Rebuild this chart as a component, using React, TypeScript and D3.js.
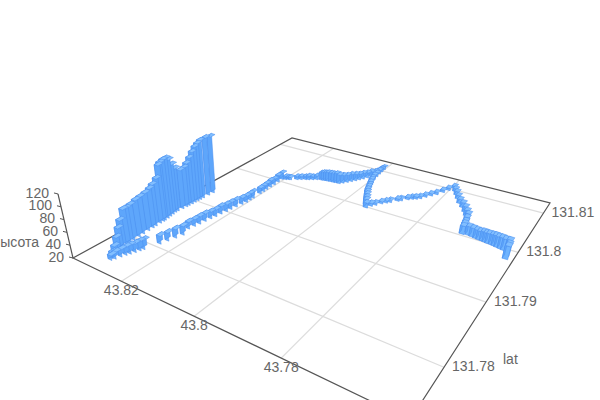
import React from "react";
import * as d3 from "d3";

const xTicks = [43.82, 43.8, 43.78];
const yTicks = [131.81, 131.8, 131.79, 131.78];
const zTicks = [20, 40, 60, 80, 100, 120];

const lon = [
  43.8311,43.8312,43.8313,43.8313,43.8314,43.8314,43.8314,43.8315,43.8315,43.8316,43.8318,43.8318,43.8316,43.8314,43.8312,43.8311,43.831,43.831,43.8309,43.8308,43.8307,43.8306,43.8304,43.8303,43.8302,43.8302,43.8302,43.8301,43.8295,43.8289,43.8285,43.8282,
  43.8278,43.8274,43.827,43.8266,43.8262,43.8258,43.8255,
  43.8242,43.8237,43.8231,43.8226,
  43.8235,43.8232,43.8229,43.8227,43.8224,43.8221,43.8219,43.8216,43.8214,43.8211,
  43.8208,43.8205,43.8205,43.8205,
  43.8205,43.8205,43.8206,43.8206,43.8206,43.8207,43.8207,
  43.8198,43.8192,43.8187,
  43.8172,43.8163,43.8153,43.8145,43.8136,43.8127,
  43.8115,43.8109,43.8103,43.8096,43.8088,43.808,43.8072,43.8064,43.8057,43.805,43.8043,43.8036,43.803,43.8024,43.8018,43.8013,
  43.8011,43.801,43.8009,43.8007,43.8006,43.8004,
  43.8003,43.8002,43.8,43.7998,43.7995,43.799,43.7985,43.798,43.7975,43.797,43.7964,43.7958,43.7951,43.7945,43.7938,
  43.7932,43.7925,43.7916,43.7908,43.7901,43.7888,43.7882,43.787,43.7862,43.7854,43.7846,43.7838,43.7829,43.782,43.7811,43.7803,43.7794,
  43.7785,43.7775,43.7764,43.7752,43.7738,43.7725,43.7715,43.7706,
  43.7702,43.7698,43.7695,43.7693,43.768,43.767,43.766,43.7652,43.7644,
  43.7637,43.763,43.7622,43.7615,43.7608,43.76,43.7592,43.7583,43.758,43.7578,
];
const lat = [
  131.7932,131.7924,131.7915,131.791,131.7906,131.7901,131.7896,131.7891,131.7887,131.7881,131.7874,131.787,131.7865,131.786,131.7855,131.785,131.7847,131.7842,131.7835,131.783,131.7823,131.7815,131.7808,131.78,131.7794,131.779,131.7784,131.778,131.7774,131.7768,131.7763,131.776,
  131.7764,131.777,131.7775,131.7779,131.7784,131.7789,131.7793,
  131.781,131.7819,131.7828,131.7837,
  131.785,131.7858,131.7865,131.7873,131.7881,131.7888,131.7896,131.7904,131.7911,131.7919,
  131.7928,131.7935,131.7942,131.7948,
  131.7962,131.7969,131.7976,131.7984,131.7992,131.8001,131.801,
  131.8012,131.8014,131.8015,
  131.802,131.8023,131.8026,131.8028,131.8031,131.8034,
  131.8036,131.8037,131.8038,131.8038,131.8039,131.8039,131.804,131.804,131.8044,131.8049,131.8054,131.8059,131.8064,131.8069,131.8075,131.8081,
  131.8085,131.809,131.8095,131.81,131.8105,131.811,
  131.8102,131.8094,131.8085,131.8076,131.8068,131.8061,131.8054,131.8047,131.804,131.8033,131.8027,131.8021,131.8014,131.8008,131.8002,
  131.8009,131.8014,131.8021,131.8026,131.803,131.8038,131.8041,131.8048,131.8052,131.8055,131.8059,131.8066,131.8073,131.808,131.809,131.8099,131.8108,
  131.81,131.8092,131.8083,131.8073,131.8065,131.8056,131.8048,131.804,
  131.803,131.802,131.8013,131.8007,131.8008,131.8007,131.8006,131.8005,131.8005,
  131.8004,131.8003,131.8003,131.8002,131.8001,131.8,131.7999,131.7998,131.7991,131.7984,
];
const alt = [
  101,103,103,101,98,93,87,81,77,76,82,90,100,105,106,105,103,86,81,78,76,75,75,73,72,73,60,51,42,34,29,27,
  30,31,32,33,33,34,34,
  32,32,33,33,
  30,30,31,31,30,30,31,30,30,30,
  29,29,29,29,
  28,28,28,29,28,29,29,
  24,23,23,
  24,24,24,25,24,25,
  30,31,31,32,32,32,33,32,31,30,30,29,28,28,27,27,
  24,24,23,23,23,23,
  24,25,25,26,26,27,27,27,28,28,28,28,28,28,27,
  24,23,23,23,23,23,23,23,23,23,23,23,23,23,23,23,23,
  24,25,25,26,27,28,28,29,
  30,31,32,32,33,33,33,33,34,
  34,35,35,36,36,37,37,38,38,40,
];

const W = 600, H = 400;
const L: [number, number] = [73, 258];
const F: [number, number] = [410, 420];
const R: [number, number] = [550, 203];
const B: [number, number] = [292, 138];
const V: [number, number] = [280, 1140];
const zK = 0.000726;

const sA = d3.scaleLinear().domain([43.8354, 43.7562]).range([0, 1]);
const sB = d3.scaleLinear().domain([131.7737, 131.813]).range([0, 1]);
const sZ = d3.scaleLinear().domain([20, 120]).range([0, zK * 100]);

const dx1 = F[0] - R[0], dx2 = B[0] - R[0], sx = L[0] - F[0] + R[0] - B[0];
const dy1 = F[1] - R[1], dy2 = B[1] - R[1], sy = L[1] - F[1] + R[1] - B[1];
const det = dx1 * dy2 - dx2 * dy1;
const g = (sx * dy2 - dx2 * sy) / det;
const h = (dx1 * sy - sx * dy1) / det;

function floor(a: number, b: number): [number, number] {
  const d = g * a + h * b + 1;
  return [
    ((F[0] - L[0] + g * F[0]) * a + (B[0] - L[0] + h * B[0]) * b + L[0]) / d,
    ((F[1] - L[1] + g * F[1]) * a + (B[1] - L[1] + h * B[1]) * b + L[1]) / d,
  ];
}
function proj(x: number, y: number, z: number): [number, number] {
  const [px, py] = floor(sA(x), sB(y));
  const t = sZ(z);
  return [px + (px - V[0]) * t, py + (py - V[1]) * t];
}
const line = d3.line();
const poly = (pts: [number, number][]) => line(pts) + "Z";

const dLon = 0.0006, dLat = 0.0004;
const font = "Arial, 'Liberation Sans', sans-serif";

export default function App() {
  const bars = lon
    .map((x, i) => ({ x, y: lat[i], z: alt[i] }))
    .sort((p, q) => sA(p.x) - sB(p.y) - (sA(q.x) - sB(q.y)));
  const edge = "#4a8fef";
  return (
    <svg width={W} height={H} style={{ position: "absolute", left: 0, top: 0, background: "#fff" }} fontFamily={font}>
      {xTicks.map((t) => (
        <path key={t} d={line([floor(sA(t), 0), floor(sA(t), 1)])!} stroke="#dcdcdc" strokeWidth={1.2} fill="none" />
      ))}
      {yTicks.map((t) => (
        <path key={t} d={line([floor(0, sB(t)), floor(1, sB(t))])!} stroke="#dcdcdc" strokeWidth={1.2} fill="none" />
      ))}
      <path d={poly([L, B, R, F])} fill="none" stroke="#555" strokeWidth={1.2} />
      <path d={line([proj(sA.invert(0), sB.invert(0), 20), proj(sA.invert(0), sB.invert(0), 120)])!} stroke="#555" strokeWidth={1.2} fill="none" />
      {zTicks.map((t) => {
        const p = proj(sA.invert(0), sB.invert(0), t);
        return (
          <g key={t}>
            <path d={line([p, [p[0] - 4, p[1] - 1]])!} stroke="#555" />
            <text x={p[0] - 9} y={p[1]} textAnchor="end" dominantBaseline="middle" fontSize={14} fill="#666">{t}</text>
          </g>
        );
      })}
      <text x={39} y={243} textAnchor="end" dominantBaseline="middle" fontSize={14} fill="#666">высота</text>
      {xTicks.map((t) => {
        const p = floor(sA(t), 0);
        return <text key={t} x={p[0]} y={p[1] + 10} textAnchor="middle" dominantBaseline="middle" fontSize={14} fill="#666">{t}</text>;
      })}
      {yTicks.map((t) => {
        const p = floor(1, sB(t));
        return <text key={t} x={p[0] + 8} y={p[1]} dominantBaseline="middle" fontSize={14} fill="#666">{t}</text>;
      })}
      <text x={503} y={360} fontSize={14} dominantBaseline="middle" fill="#666">lat</text>
      {bars.map((b, i) => {
        const x0 = b.x - dLon, x1 = b.x + dLon, y0 = b.y - dLat, y1 = b.y + dLat;
        return (
          <g key={i} stroke={edge} strokeWidth={0.5} strokeLinejoin="round">
            <path d={poly([proj(x0, y0, 20), proj(x1, y0, 20), proj(x1, y0, b.z), proj(x0, y0, b.z)])} fill="#6fb4ff" />
            <path d={poly([proj(x1, y0, 20), proj(x1, y1, 20), proj(x1, y1, b.z), proj(x1, y0, b.z)])} fill="#5ea6fb" />
            <path d={poly([proj(x0, y0, b.z), proj(x1, y0, b.z), proj(x1, y1, b.z), proj(x0, y1, b.z)])} fill="#82bfff" />
          </g>
        );
      })}
    </svg>
  );
}
